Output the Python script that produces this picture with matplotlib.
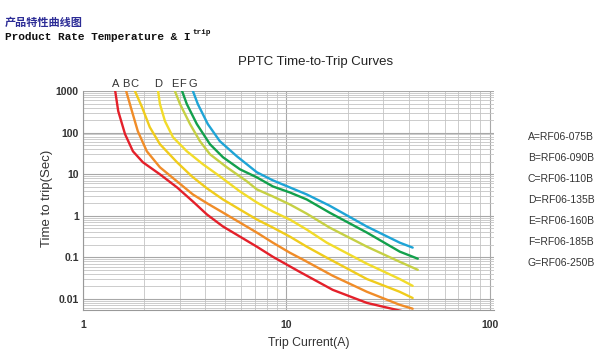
import matplotlib
matplotlib.use("Agg")
import matplotlib.pyplot as plt
from matplotlib.ticker import LogLocator, NullFormatter, FixedLocator, FixedFormatter

# curve names and part numbers
letters = ["A", "B", "C", "D", "E", "F", "G"]
parts = ["RF06-075B", "RF06-090B", "RF06-110B", "RF06-135B",
         "RF06-160B", "RF06-185B", "RF06-250B"]
colors = ["#e4202a", "#f08c28", "#f0cc1c", "#f2dc2a", "#c6d044", "#12a04c", "#1ea4d6"]

# trip current (A) / time to trip (s)
cur_a = [1.44, 1.49, 1.61, 1.76, 1.97, 2.39, 2.90, 3.47, 4.07, 4.88, 5.91, 7.16, 8.58, 11.6, 16.9, 24.9, 36.9]
t_a = [1000, 329, 91.5, 35.5, 19.3, 9.9, 4.8, 2.2, 1.07, 0.55, 0.315, 0.18, 0.103, 0.045, 0.0165, 0.008, 0.0051]

cur_b = [1.63, 1.74, 1.86, 2.06, 2.39, 2.90, 3.47, 4.07, 4.88, 5.91, 7.16, 8.58, 10.4, 12.1, 16.9, 24.9, 36.1, 41.8]
t_b = [1000, 329, 108, 35.5, 14.6, 6.7, 3.25, 2.0, 1.19, 0.685, 0.393, 0.225, 0.129, 0.0875, 0.036, 0.0148, 0.0072, 0.0058]

cur_c = [1.80, 1.95, 2.13, 2.39, 2.90, 3.43, 4.07, 4.88, 5.91, 7.16, 8.58, 10.4, 12.6, 15.8, 24.9, 36.1, 41.8]
t_c = [1000, 411, 135, 52.5, 19.3, 8.85, 4.55, 2.46, 1.41, 0.81, 0.52, 0.315, 0.18, 0.098, 0.030, 0.0148, 0.0105]

cur_d = [2.34, 2.39, 2.53, 2.77, 3.24, 3.89, 4.71, 5.91, 7.16, 8.58, 10.4, 12.6, 15.8, 24.9, 36.1, 41.8]
t_d = [1000, 485, 188, 77.4, 35.5, 17.3, 8.85, 3.85, 2.08, 1.26, 0.81, 0.464, 0.225, 0.070, 0.030, 0.0206]

cur_e = [2.83, 3.00, 3.36, 3.76, 4.21, 5.10, 6.40, 7.16, 8.58, 10.4, 12.6, 16.3, 24.9, 36.1, 44.3]
t_e = [1000, 485, 160, 62, 30.1, 14.6, 6.7, 4.3, 2.91, 1.87, 1.12, 0.52, 0.18, 0.078, 0.050]

cur_f = [3.07, 3.24, 3.63, 4.21, 4.88, 5.91, 7.16, 8.58, 10.4, 12.6, 16.3, 24.9, 36.1, 44.3]
t_f = [1000, 485, 160, 52.5, 25.5, 13.1, 8.37, 5.07, 3.63, 2.46, 1.19, 0.393, 0.137, 0.0925]

cur_g = [3.47, 3.67, 4.11, 4.71, 5.71, 7.16, 8.58, 10.4, 12.6, 16.3, 24.9, 36.1, 41.8]
t_g = [1000, 485, 160, 62, 26.9, 11.1, 7.1, 4.8, 3.25, 1.75, 0.548, 0.225, 0.171]

currents = [cur_a, cur_b, cur_c, cur_d, cur_e, cur_f, cur_g]
times = [t_a, t_b, t_c, t_d, t_e, t_f, t_g]

y_ticks = [1000, 100, 10, 1, 0.1, 0.01]
y_labels = ["1000", "100", "10", "1", "0.1", "0.01"]
x_ticks = [1, 10, 100]
x_labels = ["1", "10", "100"]

W, H = 600, 354
fig = plt.figure(figsize=(W / 100, H / 100), dpi=100)
plt.rcParams['font.family'] = ['Liberation Sans', 'DejaVu Sans']

def px(x, y):
    # pixel position -> figure fraction
    return x / W, 1 - y / H

ax = fig.add_axes([83 / W, 44 / H, 411 / W, 219 / H])
ax.set_xscale("log")
ax.set_yscale("log")
ax.set_xlim(1, 105)
ax.set_ylim(0.0054, 1000)

ax.xaxis.set_minor_locator(LogLocator(base=10, subs=range(2, 10)))
ax.yaxis.set_minor_locator(LogLocator(base=10, subs=range(2, 10)))
ax.xaxis.set_minor_formatter(NullFormatter())
ax.yaxis.set_minor_formatter(NullFormatter())
ax.yaxis.set_major_locator(FixedLocator(y_ticks))
ax.yaxis.set_major_formatter(FixedFormatter(y_labels))
ax.xaxis.set_major_locator(FixedLocator(x_ticks))
ax.xaxis.set_major_formatter(FixedFormatter(x_labels))
ax.tick_params(which="both", length=0, labelsize=7.5, labelcolor="#333333", pad=3)
ax.tick_params(axis="x", pad=7)
for lab in ax.get_xticklabels() + ax.get_yticklabels():
    lab.set_fontweight("bold")

ax.grid(True, which="major", color="#a8a8a8", lw=0.8)
ax.grid(True, which="minor", color="#c4c4c4", lw=0.6)
ax.set_axisbelow(True)
for s in ["top", "right"]:
    ax.spines[s].set_visible(False)
for s in ["left", "bottom"]:
    ax.spines[s].set_color("#999999")
    ax.spines[s].set_linewidth(0.8)

for cur, t, c, letter in zip(currents, times, colors, letters):
    ax.plot(cur, t, color=c, lw=1.7, solid_capstyle="round", solid_joinstyle="round")
    ax.text(cur[0], 1000 * 1.5, letter, ha="center", va="center",
            fontsize=8, color="#333333", clip_on=False)

fig.text(*px(309, 343), "Trip Current(A)", ha="center", va="center",
         fontsize=8.8, color="#333333")
fig.text(*px(47, 198), "Time to trip(Sec)", ha="center", va="center",
         rotation=90, fontsize=9.5, color="#333333")

fig.text(*px(316, 62), "PPTC Time-to-Trip Curves", ha="center", va="center",
         fontsize=9.5, color="#222222")

for i, (letter, part) in enumerate(zip(letters, parts)):
    fig.text(*px(528, 137 + i * 21), letter + "=" + part, ha="left", va="center",
             fontsize=7.5, color="#333333")

# header lines
fig.text(*px(5, 22), "产品特性曲线图", ha="left", va="center", fontsize=8,
         fontweight="bold", color="#2c2c96", family=["Noto Sans CJK SC", "DejaVu Sans"])
fig.text(*px(5, 37), "Product Rate Temperature & I", ha="left", va="center",
         fontsize=8, fontweight="bold", color="#111111", family="Liberation Mono")
fig.text(*px(192, 33), "trip", ha="left", va="center",
         fontsize=5.5, fontweight="bold", color="#111111", family="Liberation Mono")

fig.savefig("out.png", dpi=100)
